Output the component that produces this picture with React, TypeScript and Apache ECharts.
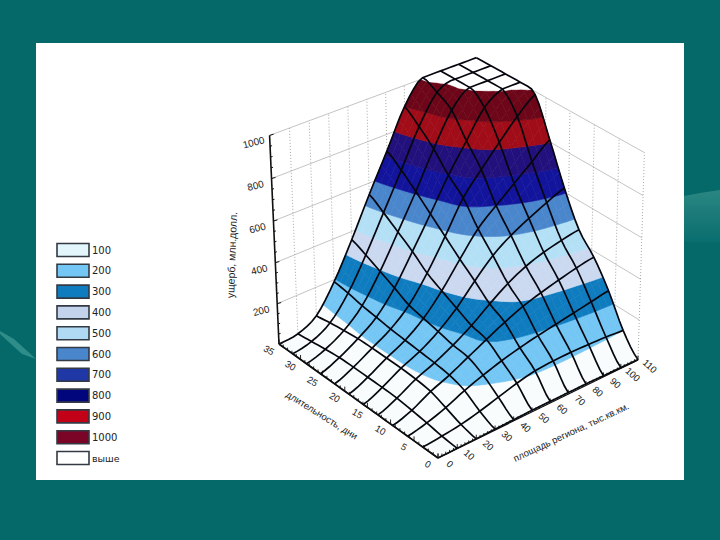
import React, { useEffect, useRef } from "react";
import * as echarts from "echarts";

const legendLabels = ["100", "200", "300", "400", "500", "600", "700", "800", "900", "1000", "выше"];
const bandColors = ["#f8fcfc", "#74c6f4", "#0f7cc0", "#cbd9f0", "#b4e0f6", "#4a86cc", "#12149c", "#22107c", "#a00c18", "#6c0618", "#ffffff"];
const legendColors = ["#e2f6fb", "#74c6f4", "#0f7cc0", "#c3d3ec", "#b0daf4", "#4a86cc", "#1f38a6", "#02067c", "#c20018", "#7a0526", "#ffffff"];
const bandLimits = [100, 200, 300, 400, 500, 600, 700, 800, 900, 1000];

const areaTicks = [0, 10, 20, 30, 40, 50, 60, 70, 80, 90, 100, 110];
const dayTicks = [0, 5, 10, 15, 20, 25, 30, 35];
const damageTicks = [200, 400, 600, 800, 1000];

// Damage, one row per mesh line along "days" (near to far), one value per mesh line along "area"
const row0 = [0, 1, 2, 4, 6, 8, 8, 8, 8, 6, 4, 2];
const row1 = [0, 8, 20, 40, 65, 90, 108, 114, 115, 112, 108, 100];
const row2 = [0, 20, 50, 90, 122, 150, 172, 190, 205, 220, 235, 250];
const row3 = [0, 30, 78, 115, 160, 205, 248, 285, 312, 335, 355, 370];
const row4 = [0, 38, 88, 125, 170, 225, 290, 350, 395, 425, 445, 460];
const row5 = [0, 40, 92, 132, 188, 262, 355, 440, 500, 545, 585, 620];
const row6 = [0, 40, 92, 138, 205, 300, 415, 525, 600, 670, 740, 810];
const row7 = [0, 40, 92, 145, 222, 340, 480, 630, 730, 825, 915, 985];
const row8 = [0, 38, 90, 155, 260, 400, 545, 695, 825, 950, 1005, 1010];
const row9 = [0, 30, 82, 165, 295, 450, 610, 780, 930, 1010, 1010, 1010];
const row10 = [0, 20, 72, 180, 330, 500, 670, 845, 975, 1010, 1010, 1010];
const row11 = [0, 10, 60, 190, 360, 545, 720, 900, 1010, 1010, 1010, 1010];
const damageRows = [row0, row1, row2, row3, row4, row5, row6, row7, row8, row9, row10, row11];

const CAP = 1005;
const N = damageRows.length - 1;

// projective camera fixed from the chart's corners
const D = [438, 458], A = [638, 360], B = [279, 344], C = [267, 136], E = [647, 152];
const pg = 0.066, ph = 0.0635, pi = -0.045;
const pa = [(1 + pg) * A[0] - D[0], (1 + pg) * A[1] - D[1]];
const pb = [(1 + ph) * B[0] - D[0], (1 + ph) * B[1] - D[1]];
const pc = [0, 1].map((k) => (((1 + ph + pi) * C[k] - (1 + ph) * B[k]) + ((1 + pg + pi) * E[k] - (1 + pg) * A[k])) / 2);

function project(area: number, days: number, damage: number) {
  const u = area / 110, v = days / 35, w = damage / 1000;
  const q = 1 + pg * u + ph * v + pi * w;
  return [(D[0] + pa[0] * u + pb[0] * v + pc[0] * w) / q, (D[1] + pa[1] * u + pb[1] * v + pc[1] * w) / q];
}

function cr(p0: number, p1: number, p2: number, p3: number, t: number) {
  return 0.5 * (2 * p1 + (p2 - p0) * t + (2 * p0 - 5 * p1 + 4 * p2 - p3) * t * t + (3 * p1 - p0 - 3 * p2 + p3) * t * t * t);
}
const cl = (n: number) => Math.max(0, Math.min(N, n));
function surf(fi: number, fj: number) {
  const i = Math.min(Math.floor(fi), N - 1), j = Math.min(Math.floor(fj), N - 1);
  const s = fi - i, t = fj - j;
  const col = [-1, 0, 1, 2].map((dj) => {
    const r = damageRows[cl(j + dj)];
    return cr(r[cl(i - 1)], r[cl(i)], r[cl(i + 1)], r[cl(i + 2)], s);
  });
  return Math.max(0, Math.min(CAP, cr(col[0], col[1], col[2], col[3], t)));
}
function surfPoint(fi: number, fj: number) {
  const z = surf(fi, fj);
  const p = project((fi / N) * 110, (fj / N) * 35, z);
  return [p[0], p[1], z];
}
function clip(poly: number[][], level: number, above: boolean) {
  const out: number[][] = [];
  for (let k = 0; k < poly.length; k++) {
    const a = poly[k], b = poly[(k + 1) % poly.length];
    const ina = above ? a[2] >= level : a[2] < level;
    const inb = above ? b[2] >= level : b[2] < level;
    if (ina) out.push(a);
    if (ina !== inb) {
      const t = (level - a[2]) / (b[2] - a[2]);
      out.push([a[0] + (b[0] - a[0]) * t, a[1] + (b[1] - a[1]) * t, level]);
    }
  }
  return out;
}

const cellData: number[][] = [];
for (let s = 2 * N - 2; s >= 0; s--) for (let i = 0; i < N; i++) { const j = s - i; if (j >= 0 && j < N) cellData.push([i, j]); }
const meshData: number[][] = [];
for (let k = 0; k <= N; k++) { meshData.push([0, k]); meshData.push([1, k]); }

const FONT = '10px "Liberation Sans"';
const rad = (d: number) => (d * Math.PI) / 180;

export default function App() {
  const ref = useRef<HTMLDivElement>(null);
  useEffect(() => {
    document.body.style.margin = "0";
    const chart = echarts.init(ref.current!, null, { renderer: "svg" });
    const SUB = 3;
    const renderCell = (_: any, api: any) => {
      const i = api.value(0), j = api.value(1);
      const children: any[] = [];
      for (let a = 0; a < SUB; a++) for (let b = 0; b < SUB; b++) {
        const q = [
          surfPoint(i + a / SUB, j + b / SUB),
          surfPoint(i + (a + 1) / SUB, j + b / SUB),
          surfPoint(i + (a + 1) / SUB, j + (b + 1) / SUB),
          surfPoint(i + a / SUB, j + (b + 1) / SUB),
        ];
        for (let k = 0; k < bandColors.length; k++) {
          let poly = q;
          if (k > 0) poly = clip(poly, bandLimits[k - 1], true);
          if (poly.length && k < bandLimits.length) poly = clip(poly, bandLimits[k], false);
          if (poly.length < 3) continue;
          children.push({
            type: "polygon",
            shape: { points: poly.map((p) => api.coord([p[0], p[1]])) },
            style: { fill: bandColors[k], stroke: bandColors[k], lineWidth: 0.6 },
          });
        }
      }
      return { type: "group", children };
    };
    const renderMesh = (_: any, api: any) => {
      const dir = api.value(0), k = api.value(1);
      const pts: number[][] = [];
      for (let t = 0; t <= N * 4; t++) {
        const f = t / 4;
        const p = dir === 0 ? surfPoint(f, k) : surfPoint(k, f);
        pts.push(api.coord([p[0], p[1]]));
      }
      return { type: "polyline", shape: { points: pts }, style: { fill: "none", stroke: "#06060f", lineWidth: 1.7 } };
    };
    const line = (api: any, a: number[], b: number[], stroke: string, lineWidth = 1, lineDash?: number[]) => ({
      type: "line",
      shape: { x1: api.coord(a)[0], y1: api.coord(a)[1], x2: api.coord(b)[0], y2: api.coord(b)[1] },
      style: { stroke, lineWidth, lineDash },
    });
    const renderWalls = (_: any, api: any) => {
      const children: any[] = [];
      damageTicks.forEach((z) => {
        children.push(line(api, project(0, 35, z), project(110, 35, z), "#c4c4c4", 1));
        children.push(line(api, project(110, 35, z), project(110, 0, z), "#c4c4c4", 1));
      });
      areaTicks.slice(1, -1).forEach((x) => {
        children.push(line(api, project(x, 35, 0), project(x, 35, 1000), "#a8a8a8", 1, [1, 2]));
      });
      dayTicks.slice(0, -1).forEach((y) => {
        children.push(line(api, project(110, y, 0), project(110, y, 1000), "#a8a8a8", 1, [1, 2]));
      });
      return { type: "group", children };
    };
    const renderAxes = (_: any, api: any) => {
      const children: any[] = [];
      children.push(line(api, project(0, 35, 0), project(0, 35, 1000), "#111", 1.6));
      children.push(line(api, project(0, 0, 0), project(110, 0, 0), "#111", 1.2));
      children.push(line(api, project(0, 0, 0), project(0, 35, 0), "#111", 1.2));
      for (let z = 0; z <= 1000; z += 50) {
        const p = project(0, 35, z);
        const len = z % 200 === 0 ? 4 : 2;
        children.push(line(api, p, [p[0] + len, p[1] - len * 0.3], "#111", 1));
      }
      for (let x = 0; x <= 110; x += 2) {
        const p = project(x, 0, 0);
        const len = x % 10 === 0 ? 4.5 : 2.5;
        children.push(line(api, p, [p[0], p[1] - len], "#111", 0.9));
      }
      for (let y = 0; y <= 35; y += 1) {
        const p = project(0, y, 0);
        const len = y % 5 === 0 ? 4.5 : 2.5;
        children.push(line(api, p, [p[0], p[1] - len], "#111", 0.9));
      }
      const text = (t: string, pos: number[], deg: number, font = FONT) => {
        const c = api.coord(pos);
        return {
          type: "text", x: c[0], y: c[1], rotation: rad(deg),
          style: { text: t, fill: "#1c1c1c", font, align: "center", verticalAlign: "middle" },
        };
      };
      damageTicks.forEach((z) => {
        const p = project(0, 35, z);
        children.push(text(String(z), [p[0] - 16, p[1] + 7], 14));
      });
      areaTicks.forEach((x) => {
        const p = project(x, 0, 0);
        children.push(text(String(x), [p[0] + 12, p[1] + 6], -42, '9.5px "Liberation Sans"'));
      });
      dayTicks.forEach((y) => {
        const p = project(0, y, 0);
        children.push(text(String(y), [p[0] - 10, p[1] + 6], -30, '9.5px "Liberation Sans"'));
      });
      const titleFont = '9.5px "Liberation Sans"';
      children.push(text("площадь региона, тыс.кв.км.", [571, 432], 25, titleFont));
      children.push(text("длительность, дни", [322, 415], -32, titleFont));
      children.push(text("ущерб, млн.долл.", [232, 255], 88, '10.5px "Liberation Sans"'));
      return { type: "group", children };
    };
    const xy = { xAxisIndex: 0, yAxisIndex: 0, coordinateSystem: "cartesian2d" };
    chart.setOption({
      animation: false,
      backgroundColor: "#05696a",
      grid: { left: 0, right: 0, top: 0, bottom: 0 },
      xAxis: { type: "value", min: 0, max: 720, show: false },
      yAxis: { type: "value", min: 0, max: 540, inverse: true, show: false },
      graphic: [
        {
          type: "polygon", z: -3,
          shape: { points: [[684, 196], [700, 193], [720, 190], [720, 242], [684, 242]] },
          style: { fill: new echarts.graphic.LinearGradient(0, 0, 0, 1, [{ offset: 0, color: "#2a8682" }, { offset: 1, color: "#0a6e6e" }]) },
        },
        { type: "polygon", z: -3, shape: { points: [[0, 331], [14, 339], [36, 359], [22, 354], [0, 334]] }, style: { fill: "#2e8d88" } },
        { type: "rect", z: -2, shape: { x: 36, y: 43, width: 648, height: 437 }, style: { fill: "#ffffff" } },
        ...legendLabels.flatMap((t, k) => {
          const y = 250 + k * 20.8;
          return [
            { type: "rect", z: 1, shape: { x: 57, y: y - 6.5, width: 32, height: 13 }, style: { fill: legendColors[k], stroke: "#333a44", lineWidth: 1.6 } },
            { type: "text", z: 1, x: 92, y, style: { text: t, fill: "#222", font: k === 10 ? '9.5px "DejaVu Sans"' : '10px "DejaVu Sans"', align: "left", verticalAlign: "middle" } },
          ];
        }),
      ],
      series: [
        { type: "custom", ...xy, z: 2, silent: true, clip: false, data: [[0]], renderItem: renderWalls },
        { type: "custom", ...xy, z: 3, silent: true, clip: false, data: cellData, renderItem: renderCell, encode: { x: 0, y: 1 } },
        { type: "custom", ...xy, z: 4, silent: true, clip: false, data: meshData, renderItem: renderMesh, encode: { x: 0, y: 1 } },
        { type: "custom", ...xy, z: 5, silent: true, clip: false, data: [[0]], renderItem: renderAxes },
      ],
    });
    return () => chart.dispose();
  }, []);
  return <div ref={ref} style={{ width: 720, height: 540 }} />;
}
